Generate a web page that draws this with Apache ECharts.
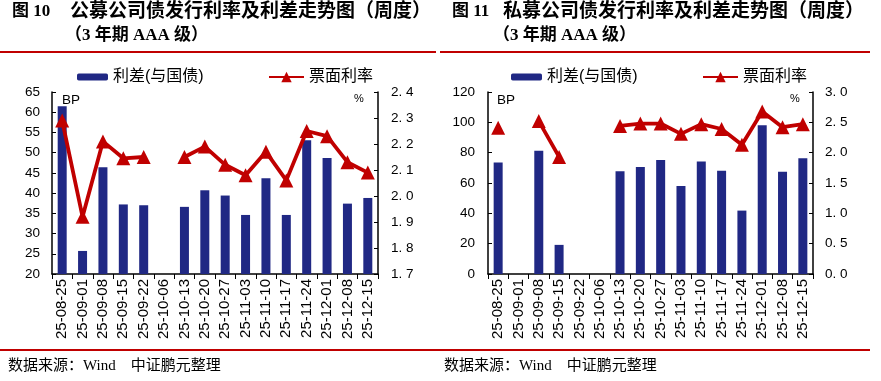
<!DOCTYPE html>
<html>
<head>
<meta charset="utf-8">
<script src="https://cdn.jsdelivr.net/npm/echarts@6/dist/echarts.min.js"></script>
<style>
html,body{margin:0;padding:0;background:#fff;}
#c{width:881px;height:381px;}
</style>
</head>
<body>
<div id="c"></div>
<script>
var categories = ['25-08-25','25-09-01','25-09-08','25-09-15','25-09-22','25-10-06','25-10-13','25-10-20','25-10-27','25-11-03','25-11-10','25-11-17','25-11-24','25-12-01','25-12-08','25-12-15'];
// 图10 公募公司债
var pubSpread = [61.5, 25.7, 46.4, 37.2, 37.0, null, 36.6, 40.7, 39.4, 34.6, 43.7, 34.6, 53.1, 48.7, 37.4, 38.8];
var pubRate = [2.29, 1.92, 2.21, 2.145, 2.15, null, 2.15, 2.19, 2.12, 2.08, 2.17, 2.06, 2.25, 2.23, 2.13, 2.09];
// 图11 私募公司债
var priSpread = [73.5, null, 81.3, 19.2, null, null, 67.8, 70.6, 75.2, 58.0, 74.2, 68.0, 41.8, 98.0, 67.5, 76.3];
var priRate = [2.41, null, 2.52, 1.93, null, null, 2.44, 2.48, 2.48, 2.31, 2.47, 2.39, 2.13, 2.68, 2.42, 2.47];

var barName = '利差(与国债)';
var lineName = '票面利率';
var BAR = '#202884', RED = '#C00000';
var SANS = '"Liberation Sans", Arial, "Noto Sans CJK SC", sans-serif';
var SERIF = '"Liberation Serif", "Times New Roman", "Noto Sans CJK SC", serif';

function xAxis(g){
  return {type:'category', gridIndex:g, data:categories, boundaryGap:true,
    axisLine:{show:true, lineStyle:{color:'#000', width:1.5}},
    axisTick:{show:true, length:5, lineStyle:{color:'#000', width:1}},
    axisLabel:{rotate:90, interval:0, fontSize:15, color:'#000', margin:5, fontFamily:SANS},
    splitLine:{show:false}};
}
function yAxis(g, pos, min, max, itv, dec, margin){
  return {type:'value', gridIndex:g, position:pos, min:min, max:max, interval:itv,
    axisLine:{show:true, lineStyle:{color:'#000', width:1.5}},
    axisTick:{show:true, inside:true, length:4, lineStyle:{color:'#000'}},
    splitLine:{show:false},
    axisLabel:{fontSize:13.5, color:'#000', margin:margin, fontFamily:SANS,
      formatter:function(v){ return dec ? v.toFixed(1).replace('.', '. ') : String(Math.round(v)); }}};
}
function legend(name, left, isLine){
  return {show:true, data:[name], left:left, top:69, padding:0, itemGap:4,
    itemWidth: isLine?35:31, itemHeight: isLine?13:7, selectedMode:false,
    textStyle:{fontSize:16, color:'#000', fontFamily:SANS}};
}
function barSeries(x, y, data){
  return {name:barName, type:'bar', xAxisIndex:x, yAxisIndex:y, data:data, barWidth:9,
    itemStyle:{color:BAR}, z:2};
}
function lineSeries(x, y, data){
  return {name:lineName, type:'line', xAxisIndex:x, yAxisIndex:y, data:data,
    connectNulls:false, symbol:'triangle', symbolSize:14, showSymbol:true, showAllSymbol:true,
    lineStyle:{color:RED, width:3.8}, itemStyle:{color:RED}, z:3};
}
function text(x, y, t, size, font, weight, align){
  return {type:'text', left:x, top:y, style:{text:t, fontSize:size, fontFamily:font, fontWeight:weight||'normal', fill:'#000', textAlign:align||'left'}};
}
function hline(x1, x2, y){
  return {type:'line', shape:{x1:x1, y1:y, x2:x2, y2:y}, style:{stroke:RED, lineWidth:2}};
}

var chart = echarts.init(document.getElementById('c'), null, {renderer:'canvas'});
chart.setOption({
  backgroundColor:'#fff',
  animation:false,
  grid:[
    {left:52, right:503, top:92, bottom:107},
    {left:488, right:68, top:92, bottom:107}
  ],
  xAxis:[xAxis(0), xAxis(1)],
  yAxis:[
    yAxis(0,'left',20,65,5,false,12),
    yAxis(0,'right',1.7,2.4,0.1,true,13),
    yAxis(1,'left',0,120,20,false,13),
    yAxis(1,'right',0,3,0.5,true,12)
  ],
  legend:[
    legend(barName, 77, false), legend(lineName, 268, true),
    legend(barName, 511, false), legend(lineName, 702, true)
  ],
  series:[
    barSeries(0,0,pubSpread), lineSeries(0,1,pubRate),
    barSeries(1,2,priSpread), lineSeries(1,3,priRate)
  ],
  graphic:[
    text(12, 3, '图 10', 17, SERIF, 'bold'),
    text(70, 3, '公募公司债发行利率及利差走势图（周度）', 19, SERIF, 'bold'),
    text(65, 27, '（3 年期 AAA 级）', 17, SERIF, 'bold'),
    text(452, 3, '图 11', 17, SERIF, 'bold'),
    text(503, 3, '私募公司债发行利率及利差走势图（周度）', 19, SERIF, 'bold'),
    text(493, 27, '（3 年期 AAA 级）', 17, SERIF, 'bold'),
    hline(0, 436, 52), hline(440, 870, 52),
    hline(0, 440, 350), hline(440, 870, 350),
    text(8, 359, '数据来源：Wind　中证鹏元整理', 15, SERIF),
    text(444, 359, '数据来源：Wind　中证鹏元整理', 15, SERIF),
    text(62, 94, 'BP', 13.5, SANS),
    text(354, 93, '%', 11, SANS),
    text(497, 94, 'BP', 13.5, SANS),
    text(790, 93, '%', 11, SANS)
  ]
});
</script>
</body>
</html>
